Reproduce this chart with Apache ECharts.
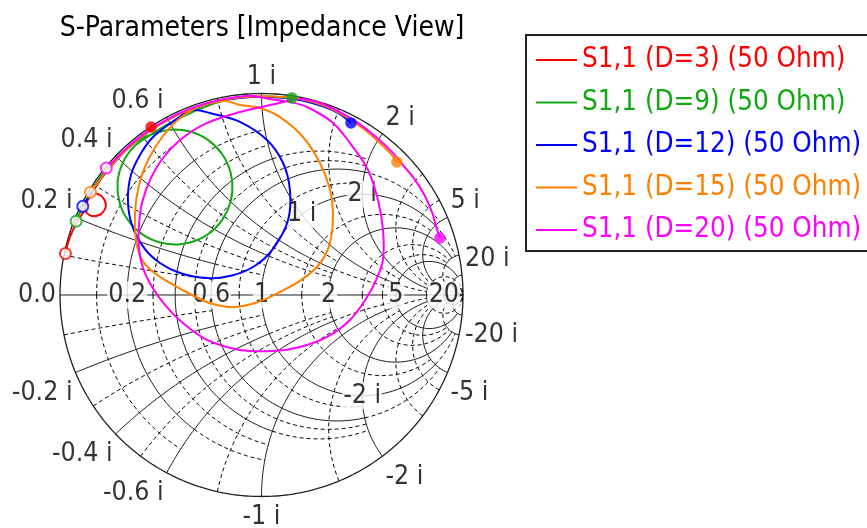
<!DOCTYPE html>
<html>
<head>
<meta charset="utf-8">
<script src="https://cdn.jsdelivr.net/npm/echarts@6/dist/echarts.min.js"></script>
<style>
  html, body { margin: 0; padding: 0; background: #fff; }
  #chart { width: 867px; height: 528px; }
</style>
</head>
<body>
<div id="chart"></div>
<script>
// Reflection coefficient S1,1 traces, points as [Re, Im]
const s11_D3 = [[-0.973,0.206],[-0.964,0.247],[-0.950,0.288],[-0.933,0.328],[-0.916,0.362],[-0.896,0.392],[-0.881,0.417],[-0.871,0.452],[-0.856,0.481],[-0.831,0.501],[-0.801,0.496],[-0.782,0.476],[-0.772,0.447],[-0.782,0.417],[-0.806,0.397],[-0.841,0.392],[-0.866,0.407],[-0.876,0.437],[-0.866,0.471],[-0.841,0.506],[-0.816,0.546],[-0.782,0.596],[-0.737,0.650],[-0.687,0.705],[-0.628,0.759],[-0.578,0.799],[-0.548,0.834]];
const s11_D9 = [[-0.920,0.366],[-0.897,0.418],[-0.866,0.480],[-0.830,0.539],[-0.791,0.596],[-0.747,0.649],[-0.706,0.694],[-0.655,0.738],[-0.600,0.775],[-0.550,0.795],[-0.454,0.820],[-0.355,0.811],[-0.266,0.770],[-0.196,0.700],[-0.154,0.610],[-0.145,0.511],[-0.171,0.415],[-0.227,0.334],[-0.309,0.277],[-0.404,0.252],[-0.503,0.261],[-0.593,0.302],[-0.663,0.372],[-0.705,0.462],[-0.714,0.561],[-0.688,0.657],[-0.631,0.738],[-0.550,0.795],[-0.479,0.839],[-0.404,0.878],[-0.320,0.918],[-0.181,0.968],[-0.067,0.983],[0.042,0.985],[0.151,0.978]];
const s11_D12 = [[-0.887,0.440],[-0.853,0.493],[-0.817,0.551],[-0.776,0.606],[-0.732,0.659],[-0.684,0.708],[-0.633,0.755],[-0.579,0.797],[-0.522,0.835],[-0.462,0.870],[-0.401,0.900],[-0.330,0.918],[-0.256,0.903],[-0.107,0.859],[0.027,0.769],[0.107,0.655],[0.141,0.521],[0.132,0.372],[0.060,0.233],[-0.032,0.145],[-0.146,0.097],[-0.270,0.084],[-0.404,0.109],[-0.504,0.159],[-0.580,0.230],[-0.643,0.347],[-0.663,0.471],[-0.648,0.596],[-0.603,0.695],[-0.543,0.779],[-0.464,0.844],[-0.365,0.908],[-0.256,0.953],[-0.107,0.978],[0.042,0.983],[0.191,0.968],[0.315,0.933],[0.390,0.898],[0.444,0.854]];
const s11_D15 = [[-0.849,0.510],[-0.817,0.551],[-0.776,0.606],[-0.732,0.659],[-0.684,0.708],[-0.633,0.755],[-0.579,0.797],[-0.522,0.835],[-0.462,0.870],[-0.401,0.900],[-0.337,0.926],[-0.272,0.947],[-0.181,0.963],[-0.107,0.943],[-0.007,0.928],[0.092,0.883],[0.206,0.784],[0.290,0.655],[0.340,0.521],[0.355,0.407],[0.345,0.280],[0.315,0.195],[0.266,0.130],[0.191,0.070],[0.092,0.015],[-0.017,-0.035],[-0.132,-0.060],[-0.241,-0.045],[-0.355,0.005],[-0.454,0.060],[-0.543,0.119],[-0.598,0.184],[-0.623,0.273],[-0.628,0.407],[-0.608,0.546],[-0.563,0.670],[-0.489,0.789],[-0.404,0.878],[-0.305,0.938],[-0.196,0.968],[-0.082,0.983],[0.042,0.985],[0.191,0.973],[0.315,0.938],[0.414,0.888],[0.514,0.819],[0.588,0.754],[0.638,0.705],[0.672,0.660]];
const s11_D20 = [[-0.770,0.630],[-0.724,0.675],[-0.675,0.724],[-0.623,0.769],[-0.568,0.811],[-0.510,0.848],[-0.449,0.882],[-0.387,0.911],[-0.323,0.936],[-0.256,0.956],[-0.189,0.972],[-0.121,0.983],[-0.052,0.989],[0.057,0.970],[0.141,0.958],[0.226,0.933],[0.355,0.854],[0.454,0.734],[0.529,0.620],[0.578,0.471],[0.603,0.323],[0.603,0.174],[0.573,0.084],[0.524,-0.010],[0.439,-0.124],[0.325,-0.208],[0.191,-0.258],[0.057,-0.278],[-0.107,-0.273],[-0.270,-0.223],[-0.390,-0.139],[-0.474,-0.055],[-0.543,0.040],[-0.588,0.134],[-0.608,0.233],[-0.608,0.347],[-0.593,0.457],[-0.553,0.571],[-0.489,0.680],[-0.404,0.769],[-0.280,0.849],[-0.107,0.908],[0.067,0.948],[0.191,0.973],[0.290,0.953],[0.390,0.908],[0.479,0.854],[0.563,0.789],[0.638,0.720],[0.702,0.645],[0.762,0.571],[0.811,0.491],[0.846,0.412],[0.866,0.342],[0.886,0.283]];

const traceNames = ['S1,1 (D=3) (50 Ohm)', 'S1,1 (D=9) (50 Ohm)', 'S1,1 (D=12) (50 Ohm)', 'S1,1 (D=15) (50 Ohm)', 'S1,1 (D=20) (50 Ohm)'];
const traceData = [s11_D3, s11_D9, s11_D12, s11_D15, s11_D20];
const traceColors = ['#ff0000', '#12a812', '#0000ff', '#ff8000', '#ff00ff'];

// Normalised tick values of the impedance grid
const realAxisTicks = [0, 0.2, 0.6, 1, 2, 5, 20];
const rimTicks = [0.2, 0.4, 0.6, 1, 2, 5, 20, -20, -5, -2, -1, -0.6, -0.4, -0.2];
const innerTicks = [1, 2, -2];   // reactance labels placed on the r = 1 circle

const INF = Infinity;
// Grid arcs: [value, other-coordinate from, to, dashed]
// used for constant-resistance circles (range in |x|) and constant-reactance arcs (range in r)
const gridArcs = [
  [0.1, 0, 0.6, 1],
  [0.2, 0, 0.6, 0], [0.2, 0.6, 1, 1],
  [0.3, 0, 1, 1],
  [0.4, 0, 1, 0], [0.4, 1, 2, 1],
  [0.5, 0, 2, 1],
  [0.6, 0, 2, 0], [0.6, 2, 5, 1],
  [0.8, 0, 2, 1],
  [1, 0, 5, 0], [1, 5, 10, 1],
  [1.5, 0, 5, 1],
  [2, 0, 10, 0],
  [3, 0, 10, 1], [4, 0, 10, 1],
  [5, 0, 20, 0],
  [10, 0, 5, 0], [10, 5, INF, 1],
  [20, 0, INF, 0]
];

// z = r + jx  ->  Gamma = (z - 1) / (z + 1)
function gamma(r, x) {
  if (!isFinite(r) || !isFinite(x)) return [1, 0];
  const d = (r + 1) * (r + 1) + x * x;
  return [(r * r - 1 + x * x) / d, (2 * x) / d];
}
function angleSpan(a, b, n, fn) {
  const t0 = (a === -INF) ? -Math.PI / 2 : Math.atan(a);
  const t1 = (b === INF) ? Math.PI / 2 : Math.atan(b);
  const pts = [];
  for (let i = 0; i <= n; i++) {
    const t = t0 + (t1 - t0) * i / n;
    const v = (Math.abs(t) >= Math.PI / 2 - 1e-9) ? INF : Math.tan(t);
    pts.push(fn(v));
  }
  return pts;
}

const FONT = '"DejaVu Sans Condensed", "DejaVu Sans", sans-serif';
const series = [];

function gridLine(points, dashed, width) {
  series.push({
    type: 'line', data: points, showSymbol: false, silent: true, clip: false,
    animation: false, z: 1,
    lineStyle: dashed ? { color: '#000', width: 1, type: [4, 3] } : { color: '#1e1e1e', width: width || 1 }
  });
}

// outer circle and real axis
gridLine(angleSpan(-INF, INF, 360, x => gamma(0, x)), false, 1.3);
gridLine([[-1, 0], [1, 0]], false, 1.2);
gridArcs.forEach(([v, a, b, d]) => {
  gridLine(angleSpan(a, b, 90, x => gamma(v, x)), d);
  gridLine(angleSpan(a, b, 90, x => gamma(v, -x)), d);
  gridLine(angleSpan(a, b, 90, r => gamma(r, v)), d);
  gridLine(angleSpan(a, b, 90, r => gamma(r, -v)), d);
});

// tick labels
const labelBase = { show: true, color: '#000', fontSize: 26.5, fontFamily: FONT, backgroundColor: '#fff', padding: [0, 1] };
const labelData = [];
realAxisTicks.forEach(r => {
  const edge = r === 0;
  labelData.push({ value: gamma(r, 0), label: Object.assign({}, labelBase, {
    formatter: edge ? '0.0' : String(r), align: edge ? 'right' : 'center', verticalAlign: 'middle',
    offset: edge ? [-3, 0] : [0, 0] }) });
});
rimTicks.forEach(x => {
  const g = gamma(0, x);
  let align = 'center', dx = 0;
  if (g[0] < -0.1) { align = 'right'; dx = -2; }
  else if (g[0] > 0.1) { align = 'left'; dx = 2; }
  const dy = x > 0 ? -16 : 20.5;
  labelData.push({ value: g, label: Object.assign({}, labelBase, {
    formatter: x + ' i', align: align, verticalAlign: 'middle', offset: [dx, dy] }) });
});
innerTicks.forEach(x => {
  labelData.push({ value: gamma(1, x), label: Object.assign({}, labelBase, {
    formatter: x + ' i', align: 'center', verticalAlign: 'middle' }) });
});
series.push({
  type: 'scatter', data: labelData, symbolSize: 1, silent: true, animation: false, z: 3,
  itemStyle: { color: 'rgba(0,0,0,0)' }, label: { position: 'inside' }
});

// traces: a smooth path through the measured points, mapped by the cartesian axes
traceData.forEach((pts, i) => {
  series.push({
    name: traceNames[i], type: 'custom', data: pts, animation: false, z: 5, clip: false,
    itemStyle: { color: traceColors[i] },
    renderItem: (params, api) => {
      if (params.dataIndex !== 0) return null;
      return {
        type: 'polyline',
        shape: { points: pts.map(p => api.coord(p)), smooth: 0.35 },
        style: { stroke: traceColors[i], lineWidth: 2, fill: 'none' }
      };
    }
  });
});
traceData.forEach((pts, i) => {
  series.push({
    type: 'scatter', data: [pts[0]], symbol: 'circle', symbolSize: 11, animation: false, z: 6,
    itemStyle: { color: '#fff', borderColor: traceColors[i], borderWidth: 2 }
  });
  series.push({
    type: 'scatter', data: [pts[pts.length - 1]], symbol: 'circle', symbolSize: 11.5, animation: false, z: 6,
    itemStyle: { color: traceColors[i] }
  });
});

const chart = echarts.init(document.getElementById('chart'), null, { renderer: 'canvas' });
chart.setOption({
  animation: false,
  backgroundColor: '#fff',
  title: {
    text: 'S-Parameters [Impedance View]', left: 257, top: 10, textAlign: 'center',
    textStyle: { fontSize: 28, fontWeight: 'normal', color: '#000', fontFamily: FONT }
  },
  legend: {
    orient: 'vertical', left: 526, top: 35, padding: [10, 10, 6, 10], itemGap: 12.5,
    itemWidth: 41, itemHeight: 2, icon: 'rect', selectedMode: false,
    borderColor: '#222', borderWidth: 2, backgroundColor: '#fff',
    textStyle: { fontSize: 27.5, lineHeight: 30, fontFamily: FONT },
    data: traceNames.map((n, i) => ({ name: n, itemStyle: { color: traceColors[i] }, textStyle: { color: traceColors[i] } }))
  },
  grid: { left: 60, top: 93.5, width: 403, height: 403 },
  xAxis: { type: 'value', min: -1, max: 1, show: false },
  yAxis: { type: 'value', min: -1, max: 1, show: false },
  series: series
});
</script>
</body>
</html>
